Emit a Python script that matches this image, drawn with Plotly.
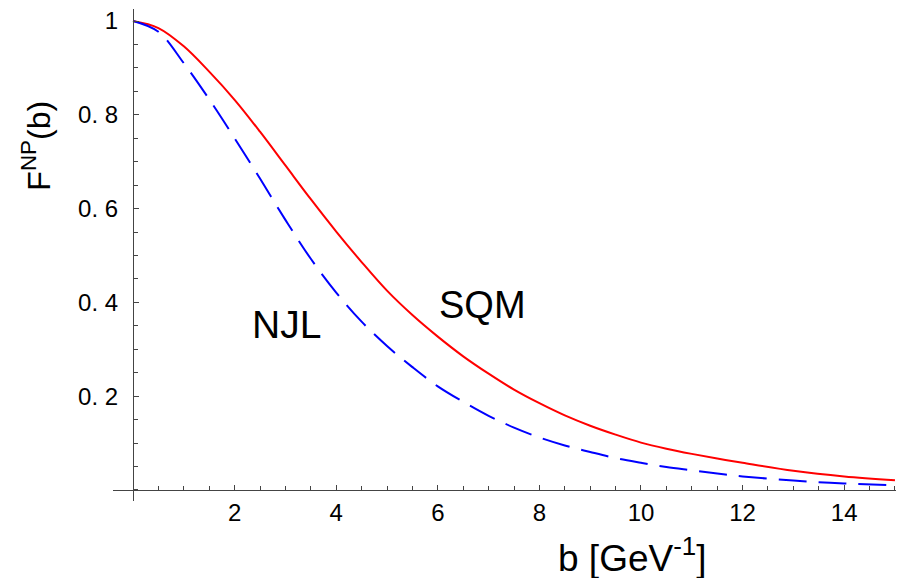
import plotly.graph_objects as go

# ---- data ----
b_vals = [0, 0.5, 1, 1.5, 2, 2.5, 3, 3.5, 4, 4.5, 5, 5.5, 6, 6.5, 7, 7.5, 8,
          8.5, 9, 9.5, 10, 10.5, 11, 11.5, 12, 13, 14, 15]
sqm_vals = [1.0, 0.985, 0.946, 0.892, 0.832, 0.764, 0.692, 0.620, 0.551, 0.486,
            0.425, 0.373, 0.327, 0.285, 0.248, 0.214, 0.185, 0.159, 0.137, 0.118,
            0.101, 0.088, 0.077, 0.067, 0.058, 0.041, 0.029, 0.021]
njl_vals = [1.0, 0.977, 0.910, 0.833, 0.750, 0.664, 0.576, 0.493, 0.421, 0.359,
            0.307, 0.262, 0.221, 0.188, 0.158, 0.133, 0.112, 0.095, 0.081, 0.068,
            0.058, 0.049, 0.042, 0.035, 0.029, 0.020, 0.014, 0.010]

x_tickvals = [2, 4, 6, 8, 10, 12, 14]
y_tickvals = [0.2, 0.4, 0.6, 0.8, 1.0]
y_ticktext = ["0. 2", "0. 4", "0. 6", "0. 8", "1"]

FONT = "Liberation Sans, Arial, Helvetica, sans-serif"

X_RANGE = [-0.394, 15.02]
Y_RANGE = [-0.0235, 1.0256]

fig = go.Figure()
fig.add_trace(go.Scatter(x=b_vals, y=sqm_vals, mode="lines", name="SQM",
                         line=dict(color="#ff0000", width=2, shape="spline", smoothing=1.0)))
fig.add_trace(go.Scatter(x=b_vals, y=njl_vals, mode="lines", name="NJL",
                         line=dict(color="#0000ff", width=2, dash="28px,12px",
                                   shape="spline", smoothing=1.0)))

xpos = (0 - Y_RANGE[0]) / (Y_RANGE[1] - Y_RANGE[0])
ypos = (0 - X_RANGE[0]) / (X_RANGE[1] - X_RANGE[0])

fig.update_layout(
    width=897, height=578,
    margin=dict(l=113, r=1, t=9, b=77),
    paper_bgcolor="white", plot_bgcolor="white",
    showlegend=False,
    font=dict(family=FONT, color="black"),
    xaxis=dict(range=X_RANGE, anchor="free", position=xpos,
               showgrid=False, zeroline=False, showline=True,
               linecolor="#444", linewidth=1.3,
               ticks="inside", ticklen=5, tickwidth=1.2, tickcolor="#444",
               tickvals=x_tickvals, ticktext=[str(v) for v in x_tickvals],
               tickfont=dict(size=24, family=FONT, color="black"),
               ticklabelstandoff=1,
               minor=dict(dtick=0.5, tick0=0, ticks="inside", ticklen=3.5,
                          tickwidth=1, tickcolor="#444", showgrid=False)),
    yaxis=dict(range=Y_RANGE, anchor="free", position=ypos,
               showgrid=False, zeroline=False, showline=True,
               linecolor="#444", linewidth=1.3,
               ticks="inside", ticklen=5, tickwidth=1.2, tickcolor="#444",
               tickvals=y_tickvals, ticktext=y_ticktext,
               tickfont=dict(size=24, family=FONT, color="black"),
               ticklabelstandoff=10,
               minor=dict(dtick=0.05, tick0=0, ticks="inside", ticklen=3.5,
                          tickwidth=1, tickcolor="#444", showgrid=False)),
)

annos = [
    dict(text="F<sup>NP</sup>(b)", x=-0.0985, y=0.722, xref="paper", yref="paper",
         textangle=-90, showarrow=False, font=dict(size=32, family=FONT, color="black"),
         xanchor="center", yanchor="middle"),
    dict(text="b [GeV<sup>-1</sup>]", x=0.664, y=-0.110, xref="paper", yref="paper",
         showarrow=False, font=dict(size=37, family=FONT, color="black"),
         xanchor="center", yanchor="middle"),
    dict(text="NJL", x=3.02, y=0.352, xref="x", yref="y", showarrow=False,
         font=dict(size=39, family=FONT, color="black"), xanchor="center", yanchor="middle"),
    dict(text="SQM", x=6.88, y=0.394, xref="x", yref="y", showarrow=False,
         font=dict(size=38, family=FONT, color="black"), xanchor="center", yanchor="middle"),
]
fig.update_layout(annotations=annos)

fig.write_html("out.html", config={"displayModeBar": False},
               post_script="document.body.style.margin='0';document.body.style.padding='0';"
                           "document.body.style.overflow='hidden';")
